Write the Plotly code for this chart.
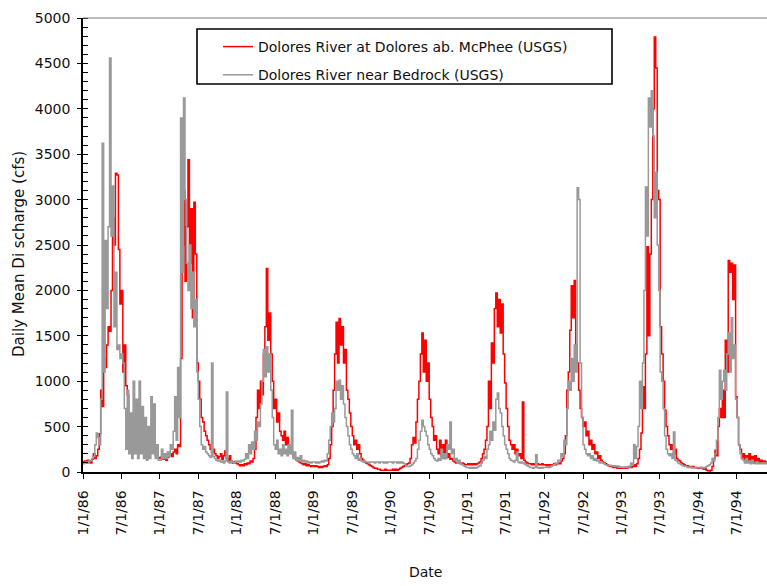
import datetime as dt
import plotly.graph_objects as go

# Weekly mean discharge (cfs), one list per calendar year, week 0 = Jan 1
mcphee = {
    1986: [110, 120, 100, 130, 110, 100, 140, 200, 150, 180, 250, 420, 900, 720, 1250, 1150,
           1400, 1600, 1550, 2000, 2800, 2500, 3290, 3270, 2450, 1850, 2000, 1100, 1400, 950,
           850, 550, 450, 380, 300, 280, 250, 330, 260, 300, 500, 450, 300, 250, 200, 220,
           380, 330, 250, 180, 170, 160],
    1987: [150, 170, 140, 150, 130, 160, 180, 200, 170, 220, 250, 200, 300, 280, 1250, 2500,
           3100, 2100, 2700, 3440, 2300, 2900, 1700, 2970, 2400, 1200, 1000, 800, 600, 550,
           450, 400, 350, 300, 250, 220, 250, 200, 180, 150, 170, 200, 140, 180, 230, 150,
           120, 180, 120, 100, 110, 100],
    1988: [90, 80, 70, 80, 70, 90, 80, 100, 90, 120, 110, 150, 250, 600, 900, 700,
           1000, 850, 1300, 1600, 2240, 1450, 1750, 1300, 1000, 700, 800, 550, 650, 450,
           400, 350, 450, 300, 380, 250, 280, 200, 180, 150, 130, 120, 110, 100, 90, 80,
           90, 70, 80, 70, 60, 70],
    1989: [60, 70, 60, 50, 60, 50, 60, 70, 60, 80, 150, 300, 500, 900, 1300, 1650,
           1200, 1690, 1400, 1600, 1200, 1350, 900, 800, 650, 500, 400, 300, 350, 250,
           300, 200, 150, 130, 110, 100, 90, 80, 70, 60, 50, 40, 40, 30, 30, 20,
           20, 20, 30, 20, 20, 20],
    1990: [20, 30, 20, 30, 20, 30, 40, 50, 60, 70, 80, 90, 100, 150, 300, 380,
           320, 550, 800, 1000, 1300, 1530, 1100, 1450, 1000, 1200, 800, 600, 500, 350,
           400, 250, 200, 350, 180, 300, 150, 350, 160, 200, 140, 150, 120, 110, 100, 100,
           100, 90, 100, 90, 80, 80],
    1991: [90, 80, 90, 80, 90, 80, 90, 100, 110, 150, 200, 250, 350, 500, 1000, 700,
           1420, 1200, 1800, 1970, 1600, 1900, 1530, 1850, 1300, 980, 700, 500, 350, 300,
           250, 300, 200, 250, 180, 200, 150, 770, 130, 110, 100, 90, 90, 80, 90, 80,
           80, 90, 80, 80, 90, 80],
    1992: [80, 70, 80, 70, 80, 80, 90, 80, 90, 100, 90, 120, 150, 200, 400, 900,
           1100, 1560, 2050, 1700, 2110, 1400, 1200, 900, 700, 600, 500, 550, 400, 450,
           300, 350, 250, 300, 200, 220, 150, 180, 130, 110, 100, 90, 80, 70, 60, 60,
           50, 50, 50, 40, 40, 40],
    1993: [40, 40, 50, 40, 50, 60, 50, 60, 80, 60, 90, 150, 250, 430, 940, 700,
           1300, 2480, 1500, 2400, 3000, 4000, 4790, 4450, 3100, 3000, 1600, 1300, 1000, 680,
           500, 400, 300, 250, 300, 200, 250, 150, 130, 120, 100, 90, 80, 70, 70, 60,
           60, 50, 60, 50, 50, 40],
    1994: [40, 50, 40, 30, 40, 20, 15, 10, 20, 60, 150, 240, 180, 500, 700, 600,
           900, 600, 1450, 1100, 2330, 2200, 2300, 1900, 2280, 830, 600, 300, 250, 150,
           200, 120, 180, 130, 200, 110, 170, 100, 180, 120, 150, 100, 130, 110, 120, 100,
           110, 100, 110],
}

bedrock = {
    1986: [90, 100, 110, 100, 120, 130, 150, 170, 300, 430, 380, 300, 800, 3620, 1100, 2550,
           1800, 2700, 4560, 2600, 3150, 1600, 2200, 1350, 1400, 1250, 1300, 1200, 700, 250,
           900, 200, 650, 150, 1000, 200, 800, 150, 1000, 200, 720, 150, 600, 130, 500, 150,
           830, 200, 750, 150, 300, 130],
    1987: [130, 250, 150, 200, 150, 220, 170, 300, 250, 450, 830, 350, 1150, 600, 3900, 2200,
           4120, 3000, 2300, 2000, 2500, 1800, 2200, 1600, 1900, 1100, 800, 500, 300, 250,
           280, 220, 200, 180, 160, 1200, 170, 150, 130, 120, 130, 110, 120, 100, 120, 880,
           110, 100, 120, 110, 100, 120],
    1988: [110, 120, 110, 130, 120, 140, 200, 150, 300, 200, 330, 250, 450, 350, 550, 500,
           750, 1000, 1350, 1050, 1380, 1100, 1300, 900, 600, 300, 250, 350, 200, 250,
           180, 300, 200, 250, 180, 300, 200, 680, 150, 220, 130, 160, 120, 180, 110, 130,
           110, 120, 100, 110, 100, 110],
    1989: [110, 100, 110, 100, 110, 120, 110, 130, 120, 200, 350, 500, 650, 550, 700, 1000,
           900, 1010, 800, 950, 750, 600, 500, 400, 300, 250, 200, 180, 150, 200,
           130, 150, 120, 110, 120, 110, 110, 100, 110, 110, 110, 100, 110, 110, 100, 110,
           110, 100, 110, 100, 110, 110],
    1990: [110, 100, 110, 110, 100, 110, 100, 110, 100, 90, 70, 60, 60, 70, 80, 100,
           120, 150, 250, 350, 450, 570, 500, 450, 400, 300, 250, 200, 180, 150,
           130, 120, 150, 130, 250, 150, 200, 150, 300, 250, 550, 200, 250, 130, 150, 100,
           130, 90, 80, 70, 60, 50],
    1991: [50, 40, 50, 40, 50, 40, 50, 60, 70, 100, 130, 170, 150, 250, 300, 450,
           350, 550, 460, 800, 870, 700, 650, 500, 400, 300, 250, 200, 150, 130,
           120, 110, 130, 220, 110, 100, 110, 100, 90, 80, 70, 60, 50, 50, 40, 50,
           190, 50, 40, 50, 40, 50],
    1992: [50, 50, 60, 50, 60, 70, 80, 100, 90, 130, 120, 200, 170, 350, 300, 700,
           1000, 900, 1250, 1000, 1400, 1100, 3130, 3000, 1200, 600, 300, 250, 200, 180,
           200, 150, 180, 130, 150, 120, 130, 100, 110, 100, 90, 80, 75, 70, 75, 70,
           65, 70, 60, 65, 60, 55],
    1993: [55, 50, 55, 50, 60, 55, 100, 80, 300, 150, 280, 500, 1000, 700, 1200, 2000,
           3140, 2600, 4120, 3800, 4200, 3700, 2800, 3300, 2500, 2000, 1100, 1000, 700, 400,
           250, 200, 180, 200, 150, 440, 130, 120, 100, 90, 80, 70, 65, 60, 55, 50,
           55, 50, 45, 50, 45, 50],
    1994: [50, 45, 50, 45, 50, 60, 70, 80, 100, 150, 120, 200, 350, 600, 1120, 800,
           1000, 1120, 900, 1300, 1530, 1100, 1700, 1250, 1400, 800, 600, 300, 200, 150,
           130, 100, 150, 100, 120, 90, 130, 100, 90, 110, 90, 100, 90, 100, 90, 100,
           90, 95, 90],
}

tick_dates = ["1986-01-01", "1986-07-01", "1987-01-01", "1987-07-01", "1988-01-01",
              "1988-07-01", "1989-01-01", "1989-07-01", "1990-01-01", "1990-07-01",
              "1991-01-01", "1991-07-01", "1992-01-01", "1992-07-01", "1993-01-01",
              "1993-07-01", "1994-01-01", "1994-07-01"]
tick_labels = ["1/1/86", "7/1/86", "1/1/87", "7/1/87", "1/1/88", "7/1/88", "1/1/89",
               "7/1/89", "1/1/90", "7/1/90", "1/1/91", "7/1/91", "1/1/92", "7/1/92",
               "1/1/93", "7/1/93", "1/1/94", "7/1/94"]

series_names = ["Dolores River at Dolores ab. McPhee (USGS)",
                "Dolores River near Bedrock (USGS)"]


def flatten(by_year):
    xs, ys = [], []
    for year, vals in by_year.items():
        start = dt.date(year, 1, 1)
        for k, v in enumerate(vals):
            xs.append(start + dt.timedelta(days=7 * k))
            ys.append(v)
    return xs, ys


FONT = "DejaVu Sans"
W, H = 767, 586
L, R, T, B = 83, 0, 18, 114
PW, PH = W - L - R, H - T - B


def px(x):
    return (x - L) / PW


def py(y):
    return (H - B - y) / PH


fig = go.Figure()
for data, name, color, grp in [(mcphee, series_names[0], "#FF0000", "a"),
                               (bedrock, series_names[1], "#999999", "b")]:
    xs, ys = flatten(data)
    fig.add_trace(go.Scatter(x=xs, y=ys, mode="lines", name=name, legendgroup=grp,
                             line=dict(color=color, width=1.5, shape="hv")))

# overlay axis carrying the inner half of the major y ticks
fig.add_trace(go.Scatter(x=[], y=[], yaxis="y2", showlegend=False, hoverinfo="skip"))

fig.update_layout(
    width=W, height=H,
    margin=dict(l=L, r=R, t=T, b=B),
    paper_bgcolor="white", plot_bgcolor="white",
    font=dict(family=FONT, size=14, color="#111111"),
    showlegend=True,
    legend=dict(x=px(218), y=py(31), xanchor="left", yanchor="top",
                bgcolor="rgba(0,0,0,0)", borderwidth=0, tracegroupgap=7,
                font=dict(family=FONT, size=14, color="#111111")),
    xaxis=dict(type="date", range=["1986-01-01", "1994-11-21"],
               tickvals=tick_dates, ticktext=tick_labels, tickangle=-90,
               ticks="outside", ticklen=5, tickwidth=1.2, tickcolor="black",
               showline=True, linecolor="black", linewidth=1.6,
               showgrid=False, zeroline=False, ticklabelstandoff=6,
               tickfont=dict(family=FONT, size=14, color="#111111")),
    yaxis=dict(range=[0, 5000], dtick=500, tick0=0,
               ticks="outside", ticklen=4, tickwidth=1.2, tickcolor="black",
               minor=dict(dtick=100, ticks="inside", ticklen=5, tickwidth=1, tickcolor="black"),
               showline=True, linecolor="black", linewidth=1.6,
               showgrid=False, zeroline=False, ticklabelstandoff=4,
               tickfont=dict(family=FONT, size=14, color="#111111")),
    yaxis2=dict(range=[0, 5000], dtick=500, tick0=0, overlaying="y", side="left",
                anchor="x", ticks="inside", ticklen=5, tickwidth=1.2, tickcolor="black",
                showticklabels=False, showline=False, showgrid=False, zeroline=False),
)

# frame line along the top and the legend box
fig.add_shape(type="line", xref="paper", yref="paper", x0=0, x1=1, y0=1, y1=1,
              line=dict(color="#777777", width=1))
fig.add_shape(type="rect", xref="paper", yref="paper",
              x0=px(197), x1=px(612), y0=py(84), y1=py(29),
              line=dict(color="black", width=1.6))

fig.add_annotation(text="Date", xref="paper", yref="paper", x=0.5, y=py(572),
                   xanchor="center", yanchor="middle", showarrow=False,
                   font=dict(family=FONT, size=14, color="#111111"))
fig.add_annotation(text="Daily Mean Di scharge (cfs)", xref="paper", yref="paper",
                   x=px(19), y=py(254), xanchor="center", yanchor="middle",
                   textangle=-90, showarrow=False,
                   font=dict(family=FONT, size=15, color="#111111"))

fig.write_html("out.html")
